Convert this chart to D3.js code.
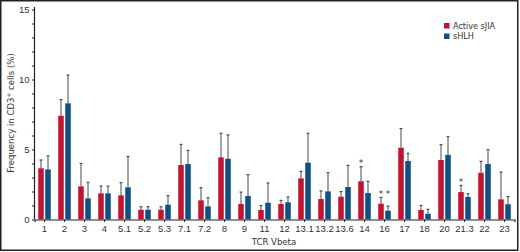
<!DOCTYPE html>
<html>
<head>
<meta charset="utf-8">
<script src="https://cdn.jsdelivr.net/npm/d3@7"></script>
<style>
  body { margin: 0; background: #fff; }
  svg { display: block; font-family: "Liberation Sans Narrow", "DejaVu Sans Condensed", sans-serif; }
</style>
</head>
<body>
<svg id="chart"></svg>
<script>
const categories = ['1', '2', '3', '4', '5.1', '5.2', '5.3', '7.1', '7.2', '8', '9', '11', '12',
  '13.1', '13.2', '13.6', '14', '16', '17', '18', '20', '21.3', '22', '23'];

const activeSJIA = [3.66, 7.41, 2.37, 1.87, 1.73, 0.7, 0.7, 3.89, 1.37, 4.44, 1.11, 0.68, 1.11,
  2.94, 1.46, 1.63, 2.73, 1.13, 5.13, 0.68, 4.25, 1.96, 3.34, 1.44];
const activeSJIAErr = [4.25, 8.56, 4.01, 2.39, 2.63, 0.91, 0.91, 5.37, 2.27, 6.16, 1.96, 0.99, 1.37,
  3.44, 2.04, 1.99, 3.77, 1.58, 6.49, 1.01, 5.34, 2.44, 4.16, 3.39];

const sHLH = [3.58, 8.3, 1.51, 1.87, 2.3, 0.7, 1.06, 3.96, 0.94, 4.34, 1.68, 1.2, 1.23,
  4.06, 2.01, 2.32, 1.89, 0.63, 4.18, 0.41, 4.61, 1.61, 3.96, 1.09];
const sHLHErr = [4.54, 10.32, 2.66, 2.39, 4.49, 0.91, 1.7, 4.94, 1.56, 6.04, 3.2, 2.61, 1.61,
  6.16, 3.34, 3.87, 2.73, 0.96, 4.73, 0.73, 5.91, 1.84, 4.99, 1.63];

// significance marks: [category, series] - drawn at the level of the Active sJIA error bar
const stars = [['14', 'red'], ['16', 'red'], ['16', 'blue'], ['21.3', 'red']];

const yTicks = [0, 5, 10, 15];

const W = 520, H = 252;
const colors = { red: '#c8102e', blue: '#0c4f8b' };

const svg = d3.select('#chart').attr('width', W).attr('height', H);

// frame
svg.append('rect')
  .attr('x', 0.75).attr('y', 0.75)
  .attr('width', 517).attr('height', 249.5)
  .attr('fill', 'none').attr('stroke', '#222').attr('stroke-width', 1.5);

const x = d3.scaleBand().domain(categories).range([34.5, 514.5]);
const y = d3.scaleLinear().domain([0, 15]).range([219.5, 9.5]);

const barW = 5.5, gap = 1.5;

// y axis
const yAxis = svg.append('g').attr('transform', 'translate(34.5,0)');
yAxis.call(d3.axisLeft(y).tickValues(d3.range(0, 16)).tickSize(2.5)
  .tickFormat((d) => (yTicks.includes(d) ? d : '')));
yAxis.select('.domain').attr('d', `M0,${y(0)}V7`).attr('stroke', '#222').attr('stroke-width', 1.2);
yAxis.selectAll('.tick line').attr('stroke', '#222');
yAxis.selectAll('.tick text').attr('x', -5).attr('font-size', 9.5).attr('fill', '#333')
  .attr('font-family', 'inherit');

// x axis
const xAxis = svg.append('g').attr('transform', `translate(0,${y(0)})`);
xAxis.call(d3.axisBottom(x).tickSizeOuter(0).tickSize(2.5));
xAxis.select('.domain').attr('stroke', '#222').attr('stroke-width', 1.2);
xAxis.selectAll('.tick line').attr('stroke', '#222');
xAxis.selectAll('.tick text').attr('y', 6).attr('font-size', 9.5).attr('fill', '#333')
  .attr('font-family', 'inherit');

const rows = categories.map((c, i) => ({
  c, red: activeSJIA[i], redErr: activeSJIAErr[i], blue: sHLH[i], blueErr: sHLHErr[i],
}));

const barX = (d, key) => {
  const cx = x(d.c) + x.bandwidth() / 2;
  return key === 'red' ? cx - gap / 2 - barW : cx + gap / 2;
};

['red', 'blue'].forEach((key) => {
  const g = svg.append('g');
  // error bars (upper only)
  g.selectAll('line.err')
    .data(rows)
    .join('line')
    .attr('x1', (d) => barX(d, key) + barW / 2)
    .attr('x2', (d) => barX(d, key) + barW / 2)
    .attr('y1', (d) => y(d[key]))
    .attr('y2', (d) => y(d[key + 'Err']))
    .attr('stroke', '#4a4a4a').attr('stroke-width', 1);
  g.selectAll('line.cap')
    .data(rows)
    .join('line')
    .attr('x1', (d) => barX(d, key) + barW / 2 - 1.5)
    .attr('x2', (d) => barX(d, key) + barW / 2 + 1.5)
    .attr('y1', (d) => y(d[key + 'Err']))
    .attr('y2', (d) => y(d[key + 'Err']))
    .attr('stroke', '#333').attr('stroke-width', 1);
  g.selectAll('rect')
    .data(rows)
    .join('rect')
    .attr('x', (d) => barX(d, key))
    .attr('y', (d) => y(d[key]))
    .attr('width', barW)
    .attr('height', (d) => y(0) - y(d[key]))
    .attr('fill', colors[key]);
});

// asterisks
svg.selectAll('text.star')
  .data(stars)
  .join('text')
  .attr('x', (d) => barX(rows[categories.indexOf(d[0])], d[1]) + barW / 2)
  .attr('y', (d) => y(rows[categories.indexOf(d[0])].redErr) - 0.5)
  .attr('text-anchor', 'middle')
  .attr('font-size', 9)
  .attr('fill', '#333')
  .attr('font-family', 'DejaVu Sans, sans-serif')
  .text('*');

// axis titles
svg.append('text')
  .attr('transform', 'translate(14,113) rotate(-90)')
  .attr('text-anchor', 'middle')
  .attr('font-size', 9.5)
  .attr('fill', '#333')
  .html('Frequency in CD3<tspan dy="-3" font-size="6.5">+</tspan><tspan dy="3"> cells (%)</tspan>');

svg.append('text')
  .attr('x', 274).attr('y', 245)
  .attr('text-anchor', 'middle')
  .attr('font-size', 9.5)
  .attr('fill', '#333')
  .text('TCR Vbeta');

// legend
const legend = [['Active sJIA', 'red'], ['sHLH', 'blue']];
const lg = svg.append('g').attr('transform', 'translate(444,23)');
legend.forEach(([label, key], i) => {
  lg.append('rect').attr('x', 0).attr('y', i * 10.5).attr('width', 5.5).attr('height', 5.5)
    .attr('fill', colors[key]);
  lg.append('text').attr('x', 9).attr('y', i * 10.5 + 5.5)
    .attr('font-size', 9).attr('fill', '#333').text(label);
});
</script>
</body>
</html>
